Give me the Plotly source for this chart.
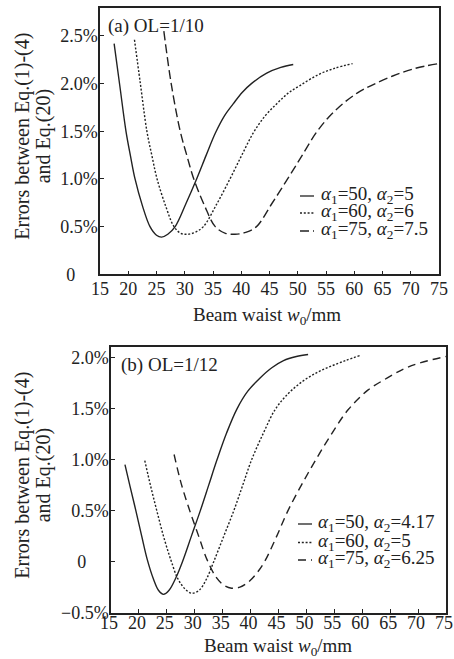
import plotly.graph_objects as go

# ---------- data: panel (a) OL=1/10 ----------
a1_x = [17.5, 18.5, 19.6, 20.4, 21.2, 22.5, 23.85, 25.0, 25.9, 27.0, 28.3, 30.2, 32.1, 33.8, 35.4, 37.0, 38.6, 40.2, 41.8, 44.5, 47.0, 49.2]
a1_y = [2.42, 1.98, 1.50, 1.24, 1.00, 0.72, 0.50, 0.41, 0.39, 0.42, 0.50, 0.74, 1.00, 1.25, 1.48, 1.66, 1.79, 1.91, 2.00, 2.11, 2.17, 2.20]

a2_x = [21.1, 22.1, 23.3, 24.2, 25.1, 26.6, 28.1, 29.3, 30.5, 31.8, 33.3, 35.6, 38.0, 40.1, 42.1, 44.2, 46.3, 48.3, 50.4, 53.5, 56.5, 59.7]
a2_y = [2.46, 2.02, 1.50, 1.24, 1.00, 0.72, 0.50, 0.43, 0.42, 0.44, 0.50, 0.73, 1.00, 1.25, 1.48, 1.66, 1.79, 1.90, 1.98, 2.09, 2.16, 2.21]

a3_x = [26.3, 27.6, 29.2, 30.4, 31.6, 33.5, 35.4, 37.2, 38.9, 40.8, 42.7, 45.4, 48.2, 50.7, 53.2, 55.5, 58.0, 60.5, 63.0, 66.8, 70.8, 74.9]
a3_y = [2.55, 2.00, 1.50, 1.24, 1.00, 0.72, 0.50, 0.43, 0.42, 0.44, 0.50, 0.74, 1.00, 1.24, 1.48, 1.65, 1.79, 1.90, 1.98, 2.08, 2.16, 2.21]

# ---------- data: panel (b) OL=1/12 ----------
b1_x = [17.5, 18.4, 19.45, 20.5, 21.5, 22.6, 23.5, 24.4, 25.4, 26.6, 27.8, 29.4, 31.0, 32.5, 34.0, 35.7, 37.5, 39.5, 41.7, 43.8, 45.9, 48.2, 50.3]
b1_y = [0.95, 0.74, 0.50, 0.25, 0.02, -0.17, -0.28, -0.32, -0.28, -0.16, 0.00, 0.25, 0.50, 0.75, 1.00, 1.26, 1.49, 1.67, 1.80, 1.90, 1.97, 2.01, 2.03]

b2_x = [21.05, 22.1, 23.2, 24.4, 25.7, 27.0, 28.3, 29.5, 30.8, 32.1, 33.4, 35.2, 37.0, 38.6, 40.2, 42.3, 44.4, 46.8, 49.4, 51.8, 54.2, 57.0, 59.6]
b2_y = [0.99, 0.74, 0.50, 0.25, 0.02, -0.17, -0.27, -0.31, -0.28, -0.17, 0.00, 0.25, 0.50, 0.75, 1.00, 1.26, 1.49, 1.65, 1.77, 1.85, 1.91, 1.97, 2.02]

b3_x = [26.3, 27.6, 29.1, 30.7, 32.2, 33.8, 35.2, 36.6, 38.1, 39.6, 41.0, 42.5, 44.6, 46.7, 49.2, 51.7, 54.6, 57.5, 61.0, 64.5, 67.5, 70.5, 75.0]
b3_y = [1.05, 0.76, 0.50, 0.25, 0.02, -0.15, -0.23, -0.26, -0.25, -0.20, -0.12, 0.00, 0.24, 0.50, 0.76, 1.00, 1.26, 1.49, 1.68, 1.80, 1.89, 1.95, 2.01]

legend_a = ["<i>α</i><sub>1</sub>=50, <i>α</i><sub>2</sub>=5",
            "<i>α</i><sub>1</sub>=60, <i>α</i><sub>2</sub>=6",
            "<i>α</i><sub>1</sub>=75, <i>α</i><sub>2</sub>=7.5"]
legend_b = ["<i>α</i><sub>1</sub>=50, <i>α</i><sub>2</sub>=4.17",
            "<i>α</i><sub>1</sub>=60, <i>α</i><sub>2</sub>=5",
            "<i>α</i><sub>1</sub>=75, <i>α</i><sub>2</sub>=6.25"]

x_ticks = [15, 20, 25, 30, 35, 40, 45, 50, 55, 60, 65, 70, 75]
ya_ticks = [0, 0.5, 1.0, 1.5, 2.0, 2.5]
ya_text = ["0" + "&nbsp;" * 5, "0.5%", "1.0%", "1.5%", "2.0%", "2.5%"]
yb_ticks = [-0.5, 0, 0.5, 1.0, 1.5, 2.0]
yb_text = ["−0.5%", "0" + "&nbsp;" * 5, "0.5%", "1.0%", "1.5%", "2.0%"]

FONT = "Liberation Serif"
INK = "#222222"
dashes_a = ["solid", "2px,1.8px", "9px,4px"]
dashes_b = ["solid", "2px,1.8px", "8px,5px"]

W, H = 454, 659
def px_x(p): return p / W
def px_y(p): return 1 - p / H

fig = go.Figure()
for xs, ys, name, d in zip([a1_x, a2_x, a3_x], [a1_y, a2_y, a3_y], legend_a, dashes_a):
    fig.add_trace(go.Scatter(x=xs, y=ys, mode="lines", name=name, line_shape="spline",
                             line=dict(color=INK, width=1.4, dash=d, smoothing=1.0),
                             xaxis="x", yaxis="y", showlegend=False))
for xs, ys, name, d in zip([b1_x, b2_x, b3_x], [b1_y, b2_y, b3_y], legend_b, dashes_b):
    fig.add_trace(go.Scatter(x=xs, y=ys, mode="lines", name=name, line_shape="spline",
                             line=dict(color=INK, width=1.4, dash=d, smoothing=1.0),
                             xaxis="x2", yaxis="y2", showlegend=False))

axis_common = dict(showgrid=False, zeroline=False, showline=True, linecolor=INK, linewidth=1.5,
                   mirror=True, ticks="inside", ticklen=4, tickcolor=INK, tickwidth=1.2,
                   automargin=False, tickfont=dict(family=FONT, size=18, color=INK))

fig.update_layout(
    width=W, height=H, margin=dict(l=0, r=0, t=0, b=0),
    paper_bgcolor="white", plot_bgcolor="white",
    font=dict(family=FONT, color=INK), showlegend=False,
    xaxis=dict(domain=[px_x(100), px_x(439)], range=[15, 75], tickvals=x_ticks, anchor="y",
               ticklabelstandoff=-3, **axis_common),
    yaxis=dict(domain=[px_y(274.3), px_y(8.3)], range=[0, 2.79], tickvals=ya_ticks, ticktext=ya_text,
               anchor="x", ticklabelstandoff=-3, **axis_common),
    xaxis2=dict(domain=[px_x(111), px_x(446)], range=[15, 75], tickvals=x_ticks, anchor="y2",
                ticklabelstandoff=-7, ticklabelshift=-2, **axis_common),
    yaxis2=dict(domain=[px_y(612.7), px_y(347.3)], range=[-0.5, 2.1], tickvals=yb_ticks, ticktext=yb_text,
                anchor="x2", ticklabelstandoff=-3, **axis_common),
)

# legend rows (sample line + label), panel (a) and panel (b)
leg_a_rows = [195, 212, 230]
leg_b_rows = [523, 541.5, 559]
for names, rows, dl, x0, x1, tx in [(legend_a, leg_a_rows, dashes_a, 300, 314, 319),
                                    (legend_b, leg_b_rows, dashes_b, 298, 312, 316)]:
    for name, r, d in zip(names, rows, dl):
        fig.add_shape(type="line", xref="paper", yref="paper", x0=px_x(x0), x1=px_x(x1),
                      y0=px_y(r + 1), y1=px_y(r + 1), line=dict(color=INK, width=1.3, dash=d))
        fig.add_annotation(xref="paper", yref="paper", x=px_x(tx), y=px_y(r), xanchor="left",
                           yanchor="middle", showarrow=False, text=name,
                           font=dict(family=FONT, size=19, color=INK))

ann = [
    dict(text="(a) OL=1/10", x=px_x(106), y=px_y(26), xanchor="left", size=19),
    dict(text="(b) OL=1/12", x=px_x(119), y=px_y(365), xanchor="left", size=19),
    dict(text="Beam waist <i>w</i><sub>0</sub>/mm", x=px_x(267), y=px_y(316), xanchor="center", size=19),
    dict(text="Beam waist <i>w</i><sub>0</sub>/mm", x=px_x(278), y=px_y(647), xanchor="center", size=19),
]
for a in ann:
    s = a.pop("size")
    fig.add_annotation(xref="paper", yref="paper", showarrow=False, yanchor="middle",
                       font=dict(family=FONT, size=s, color=INK), **a)

for yc in [136, 475]:
    fig.add_annotation(xref="paper", yref="paper", showarrow=False, textangle=-90,
                       x=px_x(21.7), y=px_y(yc), xanchor="center", yanchor="middle",
                       text="Errors between Eq.(1)-(4)", font=dict(family=FONT, size=20, color=INK))
    fig.add_annotation(xref="paper", yref="paper", showarrow=False, textangle=-90,
                       x=px_x(43.3), y=px_y(yc), xanchor="center", yanchor="middle",
                       text="and Eq.(20)", font=dict(family=FONT, size=20, color=INK))

fig.write_html("out.html", config={"displayModeBar": False},
               post_script="document.body.style.margin='0';document.body.style.padding='0';"
                           "document.body.style.overflow='hidden';")
